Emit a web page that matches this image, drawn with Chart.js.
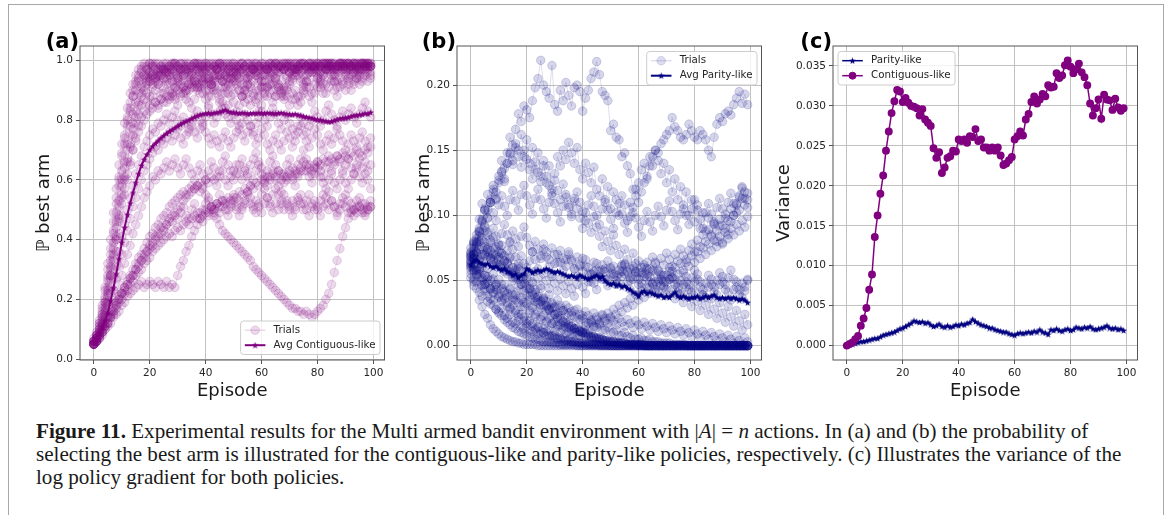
<!DOCTYPE html>
<html>
<head>
<meta charset="utf-8">
<script src="https://cdn.jsdelivr.net/npm/chart.js@4.4.1/dist/chart.umd.min.js"></script>
<style>
html, body { margin: 0; padding: 0; background: #fff; }
body { width: 1167px; height: 515px; position: relative; overflow: hidden; }
#frame { position: absolute; left: 8px; top: 4px; width: 1154px; height: 600px; border: 1px solid #a8a8a8; }
.panel { position: absolute; top: 20px; width: 400px; height: 390px; }
#caption { position: absolute; left: 36px; top: 420px; font-family: 'Liberation Serif', 'DejaVu Serif', serif; color: #1a1a1a; }
#caption .cl { white-space: nowrap; line-height: 23px; }
</style>
</head>
<body>
<div id="frame"></div>
<div class="panel" style="left:0px"><canvas id="chartA" width="400" height="390"></canvas></div>
<div class="panel" style="left:377px"><canvas id="chartB" width="400" height="390"></canvas></div>
<div class="panel" style="left:753px"><canvas id="chartC" width="400" height="390"></canvas></div>
<div id="caption">
  <div class="cl"><b>Figure 11.</b> Experimental results for the Multi armed bandit environment with |<i>A</i>| = <i>n</i> actions. In (a) and (b) the probability of</div>
  <div class="cl" id="capLine2">selecting the best arm is illustrated for the contiguous-like and parity-like policies, respectively. (c) Illustrates the variance of the</div>
  <div class="cl">log policy gradient for both policies.</div>
</div>
<script>
// x axis: episodes 0..99
const episodes = Array.from({ length: 100 }, (_, i) => i);
const episodeTicks = [0, 20, 40, 60, 80, 100];
const probTicksA = [0, 0.2, 0.4, 0.6, 0.8, 1.0];
const probTicksB = [0, 0.05, 0.10, 0.15, 0.20];
const varianceTicks = [0, 0.005, 0.010, 0.015, 0.020, 0.025, 0.030, 0.035];

// (a) average P(best arm), contiguous-like
const contiguousAvg = [
  0.060,0.068,0.085,0.105,0.128,0.155,0.195,0.238,0.285,0.335,
  0.390,0.440,0.483,0.522,0.557,0.590,0.620,0.648,0.668,0.685,
  0.700,0.712,0.722,0.731,0.740,0.748,0.755,0.762,0.768,0.774,
  0.780,0.786,0.791,0.796,0.800,0.805,0.810,0.814,0.818,0.820,
  0.822,0.823,0.821,0.824,0.825,0.827,0.830,0.834,0.829,0.826,
  0.825,0.824,0.822,0.824,0.823,0.821,0.822,0.823,0.822,0.824,
  0.823,0.822,0.824,0.823,0.822,0.821,0.823,0.824,0.822,0.820,
  0.819,0.818,0.820,0.817,0.815,0.812,0.810,0.808,0.806,0.803,
  0.801,0.800,0.798,0.796,0.794,0.795,0.799,0.802,0.805,0.806,
  0.807,0.809,0.812,0.815,0.816,0.818,0.819,0.822,0.821,0.826
];

// (a) individual trials, in percent
const contiguousTrials = [
  [6,8,11,15,21,27,35,43,52,60, 68,75,81,86,90,93,95,97,98,97, 99,98,99,97,98,99,98,96,98,99, 97,99,98,99,97,96,98,99,99,97,
   98,99,97,98,99,98,96,97,99,98, 99,97,98,99,98,99,97,98,96,98, 99,98,97,99,98,99,98,97,99,98, 96,98,99,97,98,99,98,99,97,98,
   99,98,99,97,99,98,99,98,99,97, 98,99,98,99,97,99,98,99,98,99],
  [5,7,12,16,20,28,33,42,49,58, 63,72,78,84,88,92,94,96,95,97, 96,98,97,95,97,98,96,97,99,98, 96,97,95,97,98,96,99,97,96,98,
   97,95,96,98,97,99,98,96,97,95, 96,98,97,99,97,96,98,97,95,97, 98,96,97,99,98,97,96,98,97,99, 98,97,96,98,99,97,98,96,98,99,
   97,98,99,97,98,99,98,97,99,98, 99,97,98,99,98,97,99,98,99,98],
  [7,9,13,18,23,30,37,46,54,61, 69,74,80,83,88,90,93,92,95,94, 96,95,93,95,97,94,92,95,96,93, 95,97,94,96,93,95,97,98,95,93,
   96,94,92,95,97,96,93,95,94,96, 98,95,93,96,94,92,95,97,96,94, 93,95,97,95,92,94,96,98,97,95, 96,94,97,99,96,95,97,98,96,97,
   98,96,95,97,99,98,96,97,98,97, 99,98,97,96,98,99,97,98,99,98],
  [6,7,10,13,17,22,28,35,41,48, 55,61,67,72,77,81,85,88,90,92, 93,95,94,96,95,97,96,98,97,99, 98,97,99,98,96,98,99,97,98,99,
   99,98,97,99,98,99,99,98,97,98, 99,98,99,97,98,99,98,99,99,98, 97,99,98,99,98,97,99,98,99,99, 98,99,97,98,99,99,98,97,99,98,
   99,98,99,99,97,98,99,98,99,99, 98,99,98,97,99,98,99,99,98,99],
  [5,8,10,15,19,26,31,39,46,53, 60,66,72,78,82,86,89,91,94,95, 93,96,94,92,95,97,94,96,93,91, 94,96,93,90,92,95,93,91,94,96,
   97,94,92,90,93,95,91,89,92,94, 96,93,90,88,91,94,92,89,87,90, 93,91,88,92,95,93,90,88,91,94, 96,93,95,97,94,92,95,93,96,98,
   95,93,96,98,97,95,93,96,98,99, 97,95,98,96,94,97,99,98,96,98],
  [6,8,12,17,24,32,40,49,57,65, 72,79,84,89,92,95,97,98,99,98, 99,99,98,99,98,97,99,98,99,99, 98,99,97,98,99,98,99,99,97,98,
   99,98,99,98,97,99,98,99,98,99, 97,96,98,99,98,97,99,98,99,98, 99,98,97,98,99,99,98,99,97,98, 99,98,99,97,98,99,98,99,99,98,
   97,99,98,99,98,99,97,98,99,99, 98,99,99,98,99,98,99,97,99,98],
  [5,6,9,12,16,21,27,33,40,47, 54,60,66,71,75,79,82,85,87,89, 88,91,90,92,89,91,93,90,88,91, 93,91,89,87,90,92,94,91,89,92,
   90,88,91,93,90,87,89,92,94,91, 89,92,90,88,86,89,91,93,90,88, 91,93,95,92,90,88,91,89,87,90, 92,89,87,85,88,90,93,91,89,92,
   94,91,89,92,94,96,93,91,94,92, 90,93,95,92,94,96,93,95,97,94],
  [6,7,9,11,15,19,24,30,36,42, 48,55,60,65,70,74,78,81,83,86, 85,88,86,84,87,89,86,88,90,87, 85,88,91,89,86,84,87,90,92,89,
   87,85,88,91,89,86,84,82,85,88, 86,83,85,88,90,87,85,88,86,83, 85,88,91,89,86,88,91,93,90,88, 85,87,90,88,86,89,91,88,86,89,
   91,94,92,89,91,93,90,88,91,93, 95,92,90,93,95,92,94,96,93,95],
  [5,7,9,12,14,18,22,27,31,36, 41,45,50,54,58,62,65,68,71,73, 75,77,76,79,78,80,82,79,81,83, 80,78,81,79,76,78,81,83,80,78,
   81,84,82,79,81,83,86,84,81,79, 82,80,77,79,82,80,78,76,79,81, 83,80,78,81,84,82,79,77,80,82, 79,77,75,78,81,79,76,78,80,83,
   81,78,80,83,85,82,80,78,81,83, 80,82,84,81,79,82,84,86,83,81],
  [6,7,8,11,13,16,19,23,27,31, 35,39,43,47,51,54,57,60,63,65, 67,69,71,70,73,72,74,76,73,75, 77,74,72,75,77,79,76,74,77,79,
   76,74,72,75,73,71,74,76,73,71, 74,76,78,75,73,76,78,75,72,74, 77,75,72,70,73,75,72,70,73,76, 74,71,73,76,78,75,73,71,74,77,
   75,72,70,73,75,72,74,77,75,73, 70,72,75,73,71,74,76,73,71,74],
  [5,6,8,9,11,14,16,19,22,25, 28,32,35,38,42,45,48,51,54,56, 58,61,60,63,62,64,66,63,65,67, 64,62,65,67,64,62,60,63,65,62,
   60,63,66,64,61,63,66,68,65,63, 60,62,65,67,64,62,65,67,69,66, 64,61,63,66,68,65,63,60,62,65, 67,64,62,65,67,70,67,65,62,64,
   66,63,61,64,66,63,65,68,66,63, 65,67,64,62,65,67,64,66,63,65],
  [5,6,7,8,10,11,12,14,15,16, 18,19,21,22,23,24,25,26,24,25, 26,25,24,26,25,24,26,24,25,24, 28,31,33,36,38,41,43,45,47,46,
   49,48,51,50,52,49,51,53,50,52, 54,51,53,50,52,55,52,50,53,51, 49,52,54,51,49,52,50,53,55,52, 50,53,51,54,52,50,53,55,52,50,
   51,53,55,52,50,53,51,49,52,54, 51,49,52,50,53,51,49,52,50,51],
  [5,6,7,9,10,12,14,16,18,20, 22,24,26,28,30,32,34,35,37,39, 41,42,44,45,47,48,49,51,52,53, 54,55,56,55,57,58,57,58,56,57,
   55,53,50,48,47,45,43,42,41,40, 39,38,37,36,35,34,33,31,30,29, 28,27,26,25,24,23,22,21,20,19, 18,17,17,16,16,15,16,15,14,15,
   16,17,18,20,22,25,29,33,37,41, 44,47,49,50,49,51,50,48,50,51],
  [5,6,7,9,11,12,14,16,18,20, 22,23,25,27,28,30,32,33,35,36, 38,39,41,42,44,43,45,47,46,48, 47,49,51,48,47,50,52,49,47,50,
   52,54,51,49,52,55,53,50,48,51, 53,50,48,51,53,56,54,51,49,52, 55,57,54,52,55,57,55,52,50,53, 51,48,50,53,55,52,50,48,51,53,
   50,48,51,54,56,53,51,48,50,52, 55,53,50,48,51,54,52,49,51,53],
  [5,6,8,10,12,14,15,17,19,21, 22,24,25,27,28,30,31,33,34,36, 37,38,40,41,42,44,45,46,48,49, 50,51,53,54,55,56,57,58,59,58,
   60,59,61,60,58,61,63,60,58,61, 63,65,62,60,63,61,58,60,63,65, 62,60,58,61,63,60,58,56,59,61, 63,60,58,61,63,66,63,61,59,62,
   64,61,59,57,60,62,59,57,60,62, 59,57,60,62,64,61,59,62,60,57],
  [5,6,8,9,11,12,14,15,17,19, 20,22,23,25,26,28,29,30,32,33, 34,36,37,38,39,40,41,42,41,43, 44,43,45,46,45,47,48,47,49,48,
   50,49,51,50,52,51,53,52,54,53, 55,54,56,55,57,56,58,57,59,58, 60,59,61,60,62,61,63,62,61,60, 62,61,63,62,64,63,65,64,63,65,
   66,65,67,66,68,67,66,68,67,69, 68,67,69,68,70,69,68,70,69,71],
  [6,8,11,14,18,23,28,34,40,46, 52,57,62,66,70,73,76,78,80,82, 83,84,86,85,87,86,88,87,89,88, 90,89,91,90,92,91,93,92,91,93,
   94,93,92,94,95,94,93,95,96,94, 93,95,96,97,95,94,96,97,98,96, 95,97,98,96,97,99,98,96,97,98, 99,97,96,98,99,97,98,99,98,97,
   99,98,97,99,98,99,97,98,99,98, 97,99,98,99,98,97,99,98,99,98],
  [5,7,10,14,19,24,30,37,44,51, 58,64,70,75,79,83,86,89,91,93, 94,92,95,93,96,94,97,95,93,96, 94,92,95,97,95,93,91,94,96,94,
   92,90,93,95,97,95,93,91,89,92, 94,96,94,92,90,92,95,97,95,93, 91,89,91,94,96,94,92,90,88,91, 93,95,97,95,93,91,93,96,98,96,
   94,92,95,97,99,97,95,93,96,98, 96,94,97,99,97,95,97,99,98,96]
];

// (b) average P(best arm), parity-like
const parityAvg = [
  0.062,0.065,0.066,0.064,0.063,0.062,0.063,0.061,0.060,0.061,
  0.059,0.058,0.059,0.057,0.056,0.054,0.055,0.052,0.054,0.055,
  0.059,0.058,0.056,0.057,0.058,0.057,0.058,0.059,0.058,0.057,
  0.056,0.057,0.056,0.055,0.054,0.053,0.054,0.053,0.052,0.054,
  0.053,0.052,0.051,0.052,0.053,0.054,0.052,0.053,0.050,0.048,
  0.047,0.048,0.046,0.047,0.045,0.046,0.044,0.043,0.041,0.040,
  0.038,0.041,0.042,0.040,0.041,0.040,0.039,0.038,0.039,0.037,
  0.038,0.037,0.039,0.041,0.038,0.037,0.038,0.037,0.036,0.037,
  0.037,0.038,0.036,0.037,0.038,0.037,0.038,0.039,0.037,0.036,
  0.037,0.036,0.037,0.036,0.037,0.036,0.035,0.036,0.035,0.033
];

// (b) individual trials, in thousandths
const parityTrials = [
  [63,51,44,35,30,24,21,16,13,11, 9,7,6,5,4,3,3,2,2,1, 1,1,1,1,0,0,0,0,0,0, 0,0,0,0,0,0,0,0,0,0,
   0,0,0,0,0,0,0,0,0,0, 0,0,0,0,0,0,0,0,0,0, 0,0,0,0,0,0,0,0,0,0, 0,0,0,0,0,0,0,0,0,0,
   0,0,0,0,0,0,0,0,0,0, 0,0,0,0,0,0,0,0,0,0],
  [71,66,58,55,47,44,38,36,31,28, 25,23,20,18,16,14,13,11,10,9, 8,7,6,5,5,4,3,3,3,2, 2,2,1,1,1,1,1,1,0,0,
   0,0,0,0,0,0,0,0,0,0, 0,0,0,0,0,0,0,0,0,0, 0,0,0,0,0,0,0,0,0,0, 0,0,0,0,0,0,0,0,0,0,
   0,0,0,0,0,0,0,0,0,0, 0,0,0,0,0,0,0,0,0,0],
  [58,62,55,59,52,47,51,44,40,43, 37,34,36,30,28,31,25,22,24,19, 17,19,15,13,14,11,10,11,8,7, 8,6,5,6,4,4,3,3,2,2,
   2,1,1,1,1,1,0,0,0,0, 0,0,0,0,0,0,0,0,0,0, 0,0,0,0,0,0,0,0,0,0, 0,0,0,0,0,0,0,0,0,0,
   0,0,0,0,0,0,0,0,0,0, 0,0,0,0,0,0,0,0,0,0],
  [75,79,72,80,76,70,74,67,70,63, 66,59,61,55,57,50,52,46,47,42, 44,38,39,34,35,31,31,27,28,24, 24,21,21,18,18,16,15,13,13,11,
   10,9,9,7,7,6,6,5,4,4, 3,3,3,2,2,2,1,1,1,1, 1,1,0,0,0,0,0,0,0,0, 0,0,0,0,0,0,0,0,0,0,
   0,0,0,0,0,0,0,0,0,0, 0,0,0,0,0,0,0,0,0,0],
  [66,70,78,84,81,88,85,79,83,76, 72,77,69,64,68,60,56,59,52,48, 51,44,41,43,37,34,36,30,28,29, 24,22,23,19,17,18,15,13,14,11,
   10,10,8,7,7,6,5,5,4,3, 3,3,2,2,2,1,1,1,1,1, 0,0,0,0,0,0,0,0,0,0, 0,0,0,0,0,0,0,0,0,0,
   0,0,0,0,0,0,0,0,0,0, 0,0,0,0,0,0,0,0,0,0],
  [52,46,49,41,38,42,34,32,35,28, 26,29,23,21,24,18,17,19,15,13, 15,12,11,12,9,9,10,7,7,8, 6,5,6,4,4,5,3,3,3,2,
   2,2,2,1,1,1,1,1,1,1, 0,0,0,0,0,0,0,0,0,0, 0,0,0,0,0,0,0,0,0,0, 0,0,0,0,0,0,0,0,0,0,
   0,0,0,0,0,0,0,0,0,0, 0,0,0,0,0,0,0,0,0,0],
  [69,61,66,57,63,54,59,50,55,47, 51,44,47,40,43,37,39,33,35,30, 32,27,29,24,26,22,23,19,21,17, 18,15,16,13,14,11,12,10,10,8,
   9,7,7,6,6,5,5,4,4,3, 3,3,2,2,2,2,1,1,1,1, 1,1,1,0,0,0,0,0,0,0, 0,0,0,0,0,0,0,0,0,0,
   0,0,0,0,0,0,0,0,0,0, 0,0,0,0,0,0,0,0,0,0],
  [61,67,72,65,70,76,68,73,66,61, 68,62,57,63,56,52,58,51,47,53, 46,43,48,41,38,44,37,34,39,33, 30,35,29,27,31,25,23,27,21,20,
   23,18,17,20,15,14,17,12,12,14, 10,10,12,8,8,10,7,6,8,5, 5,6,4,4,5,3,3,3,2,2, 2,2,1,1,1,1,1,1,0,0,
   0,0,0,0,0,0,0,0,0,0, 0,0,0,0,0,0,0,0,0,0],
  [60,68,63,74,70,79,72,66,75,69, 62,71,65,58,67,60,54,63,57,51, 60,55,49,57,52,46,55,50,44,53, 48,42,51,46,40,49,44,38,47,52,
   45,40,49,55,48,43,52,58,51,46, 55,61,54,48,57,63,56,50,59,53, 47,56,62,55,49,58,64,57,51,45, 54,60,53,47,41,50,56,49,43,52,
   58,51,45,39,48,54,47,41,50,56, 49,43,52,58,51,45,39,48,42,50],
  [55,49,58,52,46,54,48,43,51,45, 40,47,42,37,44,39,35,42,37,33, 39,35,31,37,33,29,35,31,27,32, 29,25,31,27,24,29,26,22,28,24,
   21,26,23,19,25,22,18,24,21,17, 22,19,16,21,18,15,20,17,14,19, 16,13,18,15,12,17,14,11,16,13, 10,15,12,9,14,11,8,13,10,7,
   12,9,6,11,8,5,10,7,4,9, 6,3,8,5,2,7,4,1,6,3],
  [72,80,76,88,83,92,87,81,90,84, 78,86,93,85,79,88,82,76,84,91, 83,77,72,80,74,69,78,72,66,75, 70,64,73,67,61,70,65,59,68,62,
   57,66,60,55,64,58,53,62,57,51, 60,55,50,58,53,62,57,52,61,56, 65,60,55,64,59,68,63,58,67,62, 71,66,61,70,65,74,69,64,73,78,
   72,81,76,85,80,89,84,93,88,97, 92,101,96,105,100,109,104,113,108,117],
  [64,58,71,66,60,69,75,68,62,70, 77,71,65,73,80,74,68,61,69,63, 57,65,72,66,59,67,74,68,61,55, 63,70,64,58,66,72,66,59,53,61,
   67,61,55,49,57,63,57,51,59,65, 59,53,47,55,61,55,49,43,51,57, 51,45,53,59,53,47,41,49,55,49, 43,51,57,51,45,39,47,53,47,41,
   49,55,49,43,37,45,51,45,39,47, 53,47,41,35,43,49,43,37,45,51],
  [68,75,82,90,97,91,104,110,102,96, 108,115,107,100,112,119,111,104,116,123, 115,108,101,113,120,112,105,98,110,117, 109,102,95,107,114,106,99,111,118,110,
   103,96,108,115,107,100,93,105,112,104, 97,90,102,109,101,94,87,99,106,98, 91,84,96,103,95,88,100,107,99,92, 104,111,103,96,89,101,108,100,93,105,
   112,104,97,90,102,109,101,94,106,113, 105,98,110,117,109,102,114,121,113,106],
  [68,72,80,88,95,105,98,110,118,112, 125,133,128,140,148,142,155,150,162,145, 158,140,152,135,148,130,142,125,138,120, 132,145,138,150,143,156,148,140,152,135,
   128,140,133,125,137,120,115,128,110,122, 105,118,112,100,115,108,96,110,102,120, 125,135,140,128,145,138,150,142,132,140, 125,135,118,128,112,122,105,118,100,112,
   95,108,90,102,88,98,85,95,80,92, 78,90,85,95,100,108,115,122,118,112],
  [70,78,85,97,109,104,116,110,123,118, 130,142,136,148,160,154,166,178,172,184, 181,175,188,198,205,219,200,195,190,215, 185,180,196,188,202,192,184,198,200,195,
   180,190,196,205,210,218,208,195,192,188, 165,170,160,158,145,148,138,132,120,115, 110,118,125,130,138,145,150,148,155,158, 162,165,175,168,165,160,158,162,170,165,
   160,158,165,162,158,150,145,160,170,175, 172,178,180,177,185,190,195,186,193,185],
  [62,70,79,87,96,104,98,112,120,113, 127,134,126,140,147,139,152,145,137,150, 143,135,128,141,133,126,138,130,123,115, 127,119,112,124,116,108,101,113,105,98,
   90,102,94,87,99,91,84,76,88,80, 73,85,77,70,62,74,66,59,71,63, 56,48,60,52,45,57,49,42,54,46, 39,51,43,36,48,40,33,45,37,30,
   42,34,27,39,31,24,36,28,21,33, 25,18,30,22,15,27,19,12,24,16],
  [65,58,54,59,50,47,53,44,41,47, 38,35,41,33,29,35,27,24,30,22, 19,25,17,22,15,20,13,18,12,17, 11,16,10,15,9,14,9,13,8,12,
   11,15,12,18,14,20,16,23,19,25, 21,28,24,31,26,33,29,36,31,39, 35,42,37,45,40,48,43,51,46,54, 49,57,52,60,55,63,58,66,61,69,
   64,72,67,75,70,78,73,81,76,84, 79,87,82,90,85,93,88,96,91,99]
];

// (c) variance of the log policy gradient
const parityVariance = [
  0.0000,0.0001,0.0002,0.0003,0.0004,0.0005,0.0005,0.0006,0.0007,0.0008,
  0.0009,0.0009,0.0011,0.0013,0.0014,0.0015,0.0016,0.0017,0.0019,0.0021,
  0.0022,0.0024,0.0026,0.0028,0.0031,0.0030,0.0029,0.0030,0.0028,0.0029,
  0.0026,0.0024,0.0025,0.0027,0.0024,0.0023,0.0025,0.0023,0.0024,0.0026,
  0.0025,0.0027,0.0026,0.0028,0.0029,0.0033,0.0030,0.0028,0.0026,0.0025,
  0.0024,0.0022,0.0022,0.0020,0.0019,0.0018,0.0017,0.0017,0.0015,0.0014,
  0.0013,0.0015,0.0016,0.0015,0.0016,0.0017,0.0016,0.0018,0.0017,0.0020,
  0.0017,0.0016,0.0014,0.0020,0.0019,0.0021,0.0019,0.0018,0.0020,0.0021,
  0.0019,0.0020,0.0023,0.0022,0.0021,0.0023,0.0022,0.0024,0.0021,0.0020,
  0.0021,0.0022,0.0023,0.0025,0.0022,0.0021,0.0022,0.0020,0.0021,0.0019
];
const contiguousVariance = [
  0.0000,0.0002,0.0004,0.0008,0.0012,0.0025,0.0034,0.0047,0.0070,0.0089,
  0.0136,0.0163,0.0190,0.0213,0.0244,0.0268,0.0291,0.0306,0.0320,0.0318,
  0.0305,0.0310,0.0304,0.0300,0.0299,0.0297,0.0288,0.0296,0.0283,0.0279,
  0.0275,0.0247,0.0235,0.0242,0.0216,0.0223,0.0235,0.0237,0.0244,0.0243,
  0.0258,0.0256,0.0258,0.0254,0.0262,0.0261,0.0271,0.0256,0.0258,0.0248,
  0.0248,0.0244,0.0248,0.0244,0.0248,0.0238,0.0226,0.0228,0.0232,0.0236,
  0.0258,0.0262,0.0268,0.0263,0.0283,0.0290,0.0305,0.0312,0.0303,0.0308,
  0.0315,0.0312,0.0326,0.0323,0.0324,0.0341,0.0335,0.0338,0.0351,0.0357,
  0.0349,0.0341,0.0346,0.0353,0.0342,0.0336,0.0326,0.0303,0.0288,0.0297,
  0.0308,0.0284,0.0314,0.0308,0.0307,0.0295,0.0309,0.0298,0.0294,0.0297
];

const FONT = "'DejaVu Sans', sans-serif";
const PURPLE = '128,0,128';
const NAVY = '0,0,128';

function makeStar(color, size) {
    const c = document.createElement('canvas');
    c.width = size;
    c.height = size;
    const g = c.getContext('2d');
    const r = size / 2, ri = r * 0.42;
    g.beginPath();
    for (let i = 0; i < 10; i++) {
        const rr = i % 2 ? ri : r;
        const a = -Math.PI / 2 + i * Math.PI / 5;
        g.lineTo(r + rr * Math.cos(a), r + rr * Math.sin(a) + 0.3);
    }
    g.closePath();
    g.fillStyle = color;
    g.fill();
    return c;
}

const starPurple = makeStar('rgb(128,0,128)', 7);
const starNavy = makeStar('rgb(0,0,128)', 7);

function toPoints(values, scale) {
    return values.map((v, i) => ({ x: episodes[i], y: v * scale }));
}

function trialSets(trials, scale, rgb, alpha) {
    return trials.map(vals => ({
        data: toPoints(vals, scale),
        borderColor: `rgba(${rgb},${alpha * 0.8})`,
        borderWidth: 1,
        pointRadius: 4.3,
        pointBackgroundColor: `rgba(${rgb},${alpha})`,
        pointBorderColor: `rgba(${rgb},${alpha})`,
        pointBorderWidth: 1
    }));
}

function drawLegend(ctx, area, cfg) {
    ctx.save();
    ctx.font = `10.3px ${FONT}`;
    const textW = Math.max(...cfg.items.map(it => ctx.measureText(it.label).width));
    const w = 37.5 + textW, h = 33.5;
    const x = cfg.loc.includes('right') ? area.right - 4.5 - w : area.left + 5;
    const y = cfg.loc.includes('lower') ? area.bottom - 5.5 - h : area.top + 5.5;
    ctx.fillStyle = 'rgba(255,255,255,0.8)';
    ctx.strokeStyle = '#cccccc';
    ctx.lineWidth = 1;
    ctx.beginPath();
    ctx.roundRect(x, y, w, h, 3);
    ctx.fill();
    ctx.stroke();
    cfg.items.forEach((it, i) => {
        const cy = y + 9.2 + i * 15;
        ctx.strokeStyle = it.line;
        ctx.lineWidth = it.lineWidth;
        ctx.beginPath();
        ctx.moveTo(x + 4.2, cy);
        ctx.lineTo(x + 24.8, cy);
        ctx.stroke();
        if (it.star) {
            ctx.drawImage(it.star, x + 14.5 - it.star.width / 2, cy - it.star.height / 2);
        } else {
            ctx.beginPath();
            ctx.arc(x + 14.5, cy, it.r, 0, 2 * Math.PI);
            ctx.fillStyle = it.fill;
            ctx.fill();
            ctx.strokeStyle = it.fill;
            ctx.lineWidth = 1;
            ctx.stroke();
        }
        ctx.fillStyle = '#262626';
        ctx.textAlign = 'left';
        ctx.textBaseline = 'middle';
        ctx.fillText(it.label, x + 33, cy);
    });
    ctx.restore();
}

// spines, panel letter and a matplotlib-like legend
const panelDecor = {
    id: 'panelDecor',
    afterDatasetsDraw(chart, args, opts) {
        const { ctx, chartArea: a } = chart;
        ctx.save();
        ctx.strokeStyle = '#555';
        ctx.lineWidth = 1;
        ctx.strokeRect(a.left, a.top, a.right - a.left, a.bottom - a.top);
        ctx.font = `bold 21px ${FONT}`;
        ctx.fillStyle = '#000';
        ctx.textAlign = 'right';
        ctx.textBaseline = 'alphabetic';
        ctx.fillText(opts.letter, a.left - 1, a.top + 2);
        ctx.restore();
        drawLegend(ctx, a, opts.legend);
    }
};

function xScale() {
    return {
        type: 'linear',
        min: -4.95,
        max: 103.95,
        afterBuildTicks: s => { s.ticks = episodeTicks.map(v => ({ value: v })); },
        afterFit: s => { s.height = 50; },
        border: { display: false },
        grid: { color: '#c2c2c2', lineWidth: 1, tickLength: 4, tickColor: '#555' },
        ticks: { font: { family: FONT, size: 10.5 }, color: '#262626', padding: 3, maxRotation: 0, callback: v => String(v) },
        title: { display: true, text: 'Episode', font: { family: FONT, size: 18 }, color: '#1a1a1a', padding: { top: 0, bottom: 8 } }
    };
}

function yScale(min, max, ticks, digits, title, titlePad) {
    return {
        type: 'linear',
        min: min,
        max: max,
        afterBuildTicks: s => { s.ticks = ticks.map(v => ({ value: v })); },
        afterFit: s => { s.width = 80; },
        border: { display: false },
        grid: { color: '#c2c2c2', lineWidth: 1, tickLength: 4, tickColor: '#555' },
        ticks: { font: { family: FONT, size: 10.5 }, color: '#262626', padding: 3, callback: v => Number(v).toFixed(digits) },
        title: { display: true, text: title, font: { family: FONT, size: 18 }, color: '#1a1a1a', padding: { top: titlePad, bottom: 0 } }
    };
}

function makeChart(id, datasets, y, decor) {
    return new Chart(document.getElementById(id), {
        type: 'line',
        data: { datasets: datasets },
        options: {
            responsive: false,
            animation: false,
            events: [],
            layout: { padding: { left: 0, right: 15.5, top: 26, bottom: 0 } },
            elements: { line: { tension: 0 } },
            plugins: { legend: { display: false }, tooltip: { enabled: false }, panelDecor: decor },
            scales: { x: xScale(), y: y }
        },
        plugins: [panelDecor]
    });
}

// (a)
makeChart('chartA', [
    {
        data: toPoints(contiguousAvg, 1),
        borderColor: `rgb(${PURPLE})`,
        borderWidth: 2,
        pointStyle: starPurple,
        pointRadius: 3
    },
    ...trialSets(contiguousTrials, 0.01, PURPLE, 0.15)
], yScale(-0.003, 1.048, probTicksA, 1, 'ℙ best arm', 33.8), {
    letter: '(a)',
    legend: {
        loc: 'lower right',
        items: [
            { label: 'Trials', line: `rgba(${PURPLE},0.15)`, lineWidth: 1.5, fill: `rgba(${PURPLE},0.15)`, r: 4.3 },
            { label: 'Avg Contiguous-like', line: `rgb(${PURPLE})`, lineWidth: 2, star: starPurple }
        ]
    }
});

// (b)
makeChart('chartB', [
    {
        data: toPoints(parityAvg, 1),
        borderColor: `rgb(${NAVY})`,
        borderWidth: 2,
        pointStyle: starNavy,
        pointRadius: 3
    },
    ...trialSets(parityTrials, 0.001, NAVY, 0.16)
], yScale(-0.011, 0.230, probTicksB, 2, 'ℙ best arm', 36.2), {
    letter: '(b)',
    legend: {
        loc: 'upper right',
        items: [
            { label: 'Trials', line: `rgba(${NAVY},0.13)`, lineWidth: 1.5, fill: `rgba(${NAVY},0.13)`, r: 4.3 },
            { label: 'Avg Parity-like', line: `rgb(${NAVY})`, lineWidth: 2, star: starNavy }
        ]
    }
});

// (c)
makeChart('chartC', [
    {
        data: toPoints(contiguousVariance, 1),
        borderColor: `rgb(${PURPLE})`,
        borderWidth: 1.5,
        pointRadius: 3.2,
        pointBackgroundColor: `rgb(${PURPLE})`,
        pointBorderColor: `rgb(${PURPLE})`
    },
    {
        data: toPoints(parityVariance, 1),
        borderColor: `rgb(${NAVY})`,
        borderWidth: 1.5,
        pointStyle: starNavy,
        pointRadius: 3
    }
], yScale(-0.0018, 0.0375, varianceTicks, 3, 'Variance', 20.8), {
    letter: '(c)',
    legend: {
        loc: 'upper left',
        items: [
            { label: 'Parity-like', line: `rgb(${NAVY})`, lineWidth: 1.5, star: starNavy },
            { label: 'Contiguous-like', line: `rgb(${PURPLE})`, lineWidth: 1.5, fill: `rgb(${PURPLE})`, r: 3.5 }
        ]
    }
});

// size the caption so that its second line spans the reference width
const cap = document.getElementById('caption');
cap.style.fontSize = '21px';
const line2 = document.getElementById('capLine2');
line2.style.display = 'inline-block';
const w2 = line2.getBoundingClientRect().width;
cap.style.fontSize = (21 * 1086 / w2).toFixed(2) + 'px';
line2.style.display = 'block';
</script>
</body>
</html>
